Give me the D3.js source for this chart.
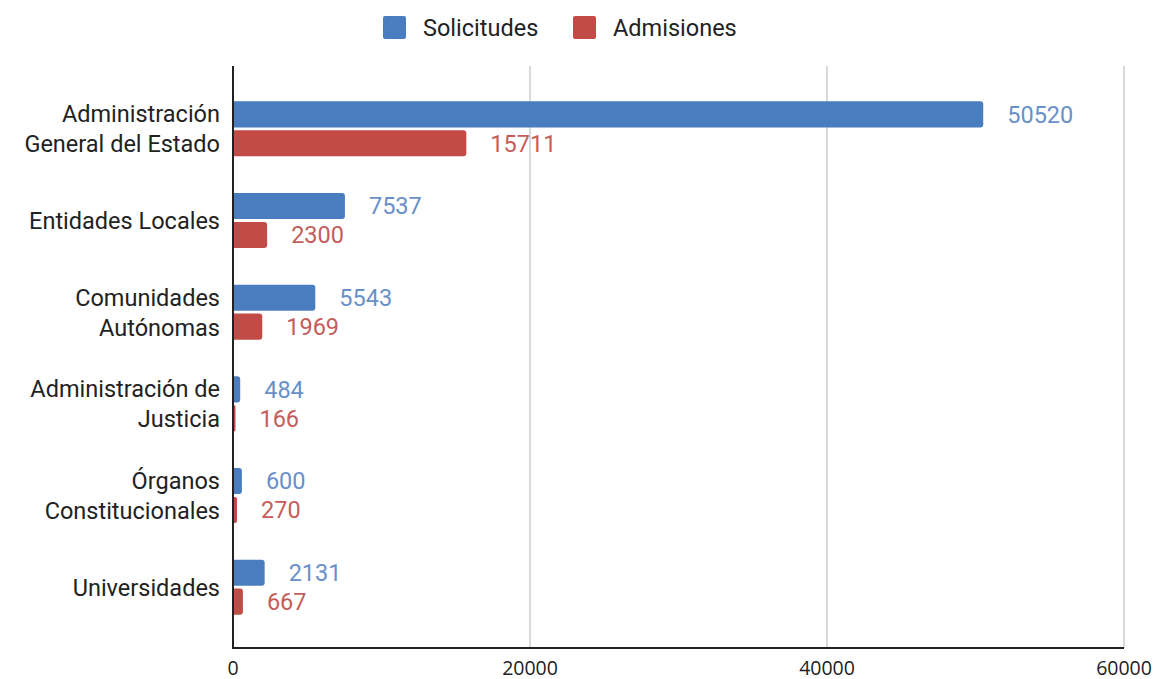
<!DOCTYPE html>
<html><head><meta charset="utf-8">
<script src="https://cdn.jsdelivr.net/npm/d3@7"></script>
<style>body{margin:0;background:#fff}</style>
</head><body>
<svg id="c" width="1155" height="679"></svg>
<script>
const categories = [
  ["Administración", "General del Estado"],
  ["Entidades Locales"],
  ["Comunidades", "Autónomas"],
  ["Administración de", "Justicia"],
  ["Órganos", "Constitucionales"],
  ["Universidades"]
];
const seriesNames = ["Solicitudes", "Admisiones"];
const solicitudes = [50520, 7537, 5543, 484, 600, 2131];
const admisiones = [15711, 2300, 1969, 166, 270, 667];
const xTicks = [0, 20000, 40000, 60000];

(function () {
const barColors = ["#4a7dc0", "#c24a47"];
const labelColors = ["#6990c9", "#c55d5a"];

const svg = d3.select("#c");
const pLeft = 233, pRight = 1124, pTop = 66, pBottom = 648;
const x = d3.scaleLinear().domain([0, 60000]).range([pLeft, pRight]);
const keys = categories.map((c, i) => i);
const y0 = d3.scaleBand().domain(keys).range([83, 633]).paddingInner(0.4).paddingOuter(0.2);
const y1 = d3.scaleBand().domain([0, 1]).range([0, y0.bandwidth()]).paddingInner(0.1);

// gridlines
svg.append("g").selectAll("line").data(xTicks.filter(t => t > 0)).join("line")
  .attr("x1", d => x(d)).attr("x2", d => x(d))
  .attr("y1", pTop).attr("y2", pBottom)
  .attr("stroke", "#cccccc").attr("stroke-width", 1.5);

const series = [solicitudes, admisiones];
const r = 3;
series.forEach((vals, s) => {
  const g = svg.append("g");
  g.selectAll("path").data(vals).join("path")
    .attr("fill", barColors[s])
    .attr("d", (v, i) => {
      const x0 = x(0), x1 = x(v), yy = y0(i) + y1(s), h = y1.bandwidth();
      const rr = Math.min(r, (x1 - x0) / 2);
      return `M${x0},${yy}H${x1 - rr}Q${x1},${yy} ${x1},${yy + rr}V${yy + h - rr}Q${x1},${yy + h} ${x1 - rr},${yy + h}H${x0}Z`;
    });
  g.selectAll("text").data(vals).join("text")
    .attr("x", v => x(v) + 24)
    .attr("y", (v, i) => y0(i) + y1(s) + y1.bandwidth() / 2)
    .attr("dy", "0.36em")
    .attr("fill", labelColors[s])
    .attr("font-family", "Roboto, sans-serif")
    .attr("font-size", 23.5)
    .text(v => v);
});

// axes lines
svg.append("line").attr("x1", pLeft).attr("x2", pLeft).attr("y1", pTop).attr("y2", pBottom)
  .attr("stroke", "#222").attr("stroke-width", 2);
svg.append("line").attr("x1", pLeft - 1).attr("x2", pRight).attr("y1", pBottom).attr("y2", pBottom)
  .attr("stroke", "#222").attr("stroke-width", 2);

// x tick labels
svg.append("g").selectAll("text").data(xTicks).join("text")
  .attr("x", d => x(d)).attr("y", 675)
  .attr("text-anchor", "middle")
  .attr("font-family", "'Open Sans', sans-serif")
  .attr("font-size", 19.5).attr("fill", "#222")
  .text(d => d);

// category labels
const cg = svg.append("g");
categories.forEach((lines, i) => {
  const cy = y0(i) + y0.bandwidth() / 2;
  const lh = 30;
  lines.forEach((ln, j) => {
    cg.append("text")
      .attr("x", 220)
      .attr("y", cy + (j - (lines.length - 1) / 2) * lh)
      .attr("dy", "0.36em")
      .attr("text-anchor", "end")
      .attr("font-family", "Roboto, sans-serif")
      .attr("font-size", 23.5).attr("fill", "#222")
      .text(ln);
  });
});

// legend
const legX = [383, 573];
seriesNames.forEach((n, s) => {
  svg.append("rect").attr("x", legX[s]).attr("y", 16).attr("width", 23).attr("height", 23)
    .attr("rx", 2).attr("fill", barColors[s]);
  svg.append("text").attr("x", legX[s] + 40).attr("y", 28).attr("dy", "0.36em")
    .attr("font-family", "Roboto, sans-serif").attr("font-size", 23.5).attr("fill", "#222")
    .text(n);
});
})();
</script>
</body></html>
